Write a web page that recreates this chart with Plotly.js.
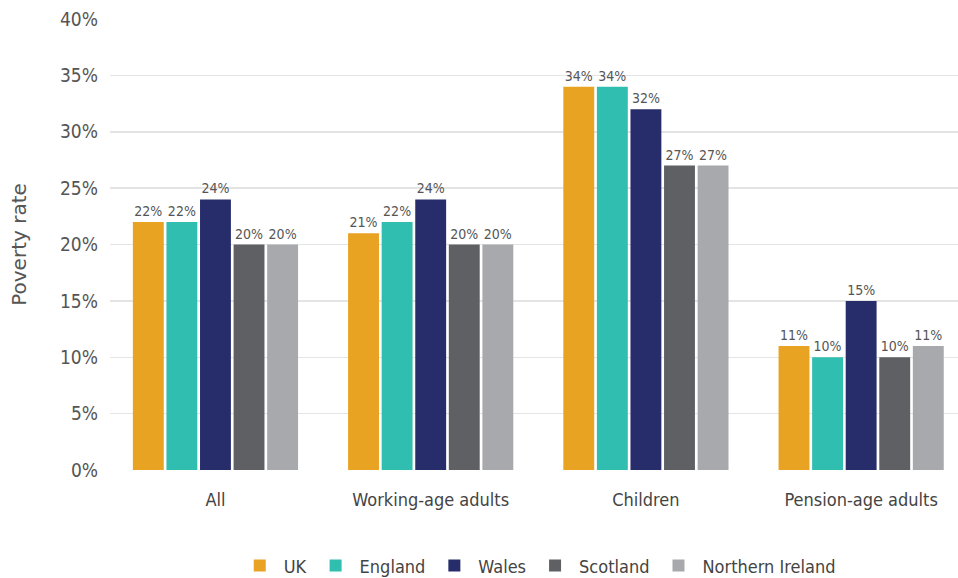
<!DOCTYPE html>
<html><head><meta charset="utf-8">
<script src="https://cdn.plot.ly/plotly-3.0.1.min.js"></script>
<style>body{margin:0;background:#fff}#chart{width:958px;height:578px}</style>
</head><body><div id="chart"></div>
<script>
const categories = ["All", "Working-age adults", "Children", "Pension-age adults"];
const seriesNames = ["UK", "England", "Wales", "Scotland", "Northern Ireland"];
const uk = [22, 21, 34, 11];
const england = [22, 22, 34, 10];
const wales = [24, 24, 32, 15];
const scotland = [20, 20, 27, 10];
const northernIreland = [20, 20, 27, 11];
const yTicks = [0, 5, 10, 15, 20, 25, 30, 35, 40];
const yTickLabels = ["0%", "5%", "10%", "15%", "20%", "25%", "30%", "35%", "40%"];
const colors = ["#E8A322", "#30BEB1", "#272D6A", "#5F6064", "#A8A9AD"];

const font = "'DejaVu Sans Condensed', sans-serif";
const allSeries = [uk, england, wales, scotland, northernIreland];
const traces = allSeries.map((vals, i) => ({
  type: "bar",
  name: seriesNames[i],
  x: categories,
  y: vals,
  text: vals.map(v => v + "%"),
  textposition: "outside",
  constraintext: "none",
  textangle: 0,
  textfont: {family: font, size: 14, color: "#555"},
  marker: {color: colors[i]},
  cliponaxis: false,
  hoverinfo: "skip"
}));

const layout = {
  width: 958, height: 578,
  margin: {l: 110, r: 0, t: 19, b: 108},
  paper_bgcolor: "#fff", plot_bgcolor: "#fff",
  barmode: "group",
  bargap: 0.22,
  bargroupgap: 0.08,
  font: {family: font, color: "#555"},
  xaxis: {
    range: [-0.49, 3.45],
    tickfont: {family: font, size: 18, color: "#444"},
    showgrid: false, zeroline: false, showline: false,
    ticks: "",
    ticklabelstandoff: 17
  },
  yaxis: {
    range: [0, 40],
    tickvals: yTicks, ticktext: yTickLabels,
    tickfont: {family: font, size: 19, color: "#555"},
    gridcolor: "#e4e4e4", gridwidth: 1.5,
    zeroline: false, showline: false,
    ticks: "", ticklen: 0,
    ticklabelstandoff: 11,
    automargin: false,
    title: {text: "Poverty rate", font: {family: "'DejaVu Sans', sans-serif", size: 20, color: "#555"}, standoff: 28}
  },
  showlegend: true,
  legend: {
    orientation: "h",
    x: 0.505, xanchor: "center",
    yref: "container",
    y: 0.021, yanchor: "middle",
    font: {family: font, size: 18, color: "#444"},
    itemwidth: 38,
    traceorder: "normal"
  }
};

Plotly.newPlot("chart", traces, layout, {displayModeBar: false, staticPlot: true});
</script>
</body></html>
